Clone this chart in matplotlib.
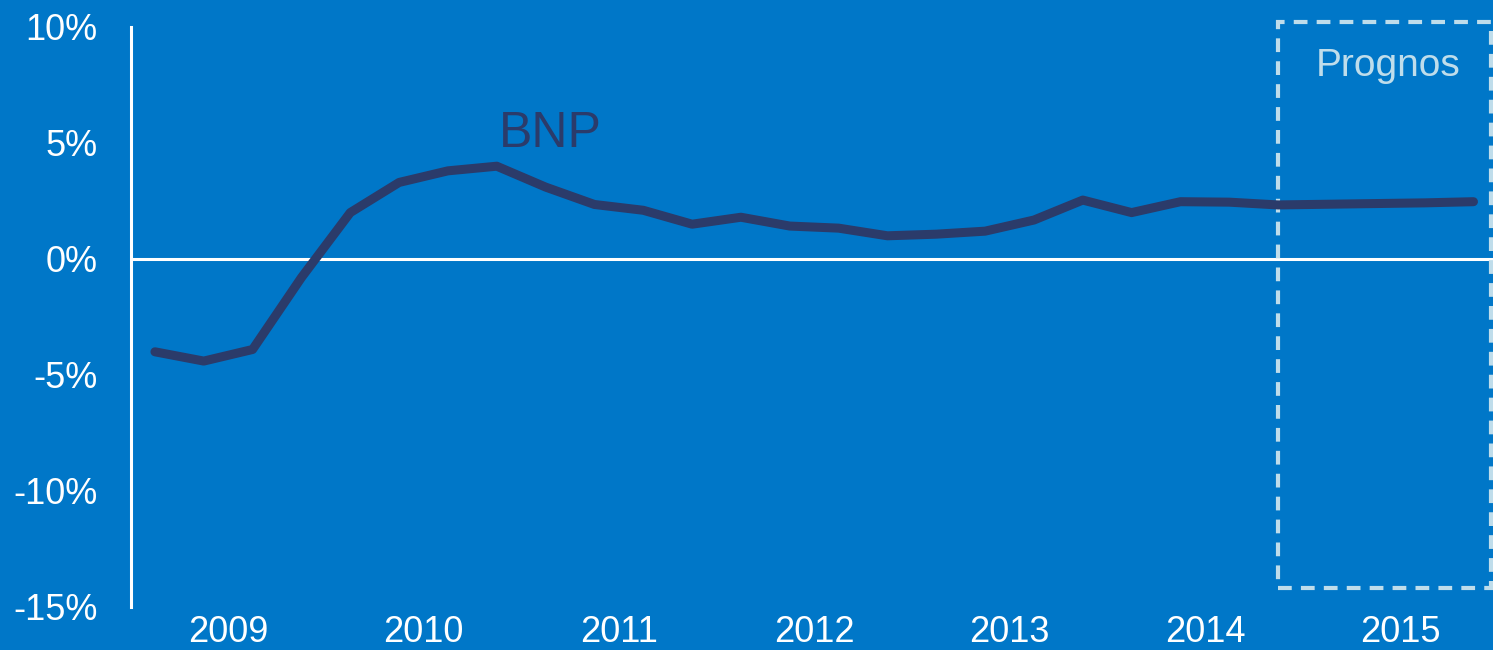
import numpy as np
import matplotlib
matplotlib.use('Agg')
import matplotlib.pyplot as plt
from matplotlib.patches import Rectangle

plt.rcParams['font.family'] = ['Liberation Sans', 'DejaVu Sans']

# quarterly BNP growth, 2009 Q1 - 2015 Q4 (%)
bnp = [-4.0, -4.4, -3.9, -0.8, 2.0, 3.3, 3.8, 4.0,
       3.1, 2.35, 2.1, 1.5, 1.8, 1.42, 1.33, 1.0,
       1.07, 1.2, 1.68, 2.54, 2.0, 2.47, 2.45, 2.33,
       2.36, 2.39, 2.42, 2.47]
years = ['2009', '2010', '2011', '2012', '2013', '2014', '2015']
yticks = [-15, -10, -5, 0, 5, 10]
forecast_start = 23  # index of first forecast quarter

bg = '#0077C8'
navy = '#2B3B6A'
light = '#BFDDEB'

fig = plt.figure(figsize=(14.93, 6.5), dpi=100, facecolor=bg)
ax = fig.add_axes([131/1493, 43/650, 1 - 131/1493, 580/650])
ax.set_facecolor(bg)

x = np.arange(len(bnp))
ax.axhline(0, color='white', lw=2.2, zorder=1)
ax.plot(x, bnp, color=navy, lw=6.5, solid_capstyle='round', solid_joinstyle='round', zorder=3)

ax.set_xlim(-0.49, 27.4)
ax.set_ylim(-15, 10)

ax.set_yticks(yticks)
ax.set_yticklabels([f'{v}%' for v in yticks])
ax.set_xticks(np.arange(len(years)) * 4 + 1.5)
ax.set_xticklabels(years)
ax.tick_params(axis='y', length=0, pad=24, labelsize=26, labelcolor='white')
ax.tick_params(axis='x', length=0, pad=6, labelsize=26, labelcolor='white')

for s in ['top', 'right', 'bottom']:
    ax.spines[s].set_visible(False)
ax.spines['left'].set_color('white')
ax.spines['left'].set_linewidth(2.2)

# forecast box
box = Rectangle((forecast_start, -14.2), 27.36 - forecast_start, 24.4, fill=False,
                edgecolor=light, lw=3, linestyle=(0, (3.3, 2.2)), clip_on=False, zorder=2)
ax.add_patch(box)
ax.text(25.25, 8.3, 'Prognos', color=light, fontsize=28, ha='center', va='center')
ax.text(8.1, 5.4, 'BNP', color=navy, fontsize=36, ha='center', va='center')

fig.savefig('out.png', dpi=100, facecolor=bg)
